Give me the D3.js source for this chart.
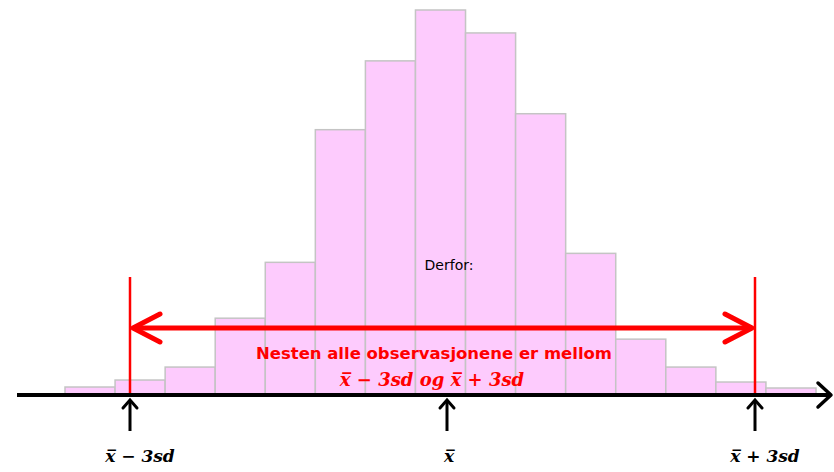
<!DOCTYPE html>
<html><head><meta charset="utf-8">
<script src="https://cdn.jsdelivr.net/npm/d3@7"></script>
<style>body{margin:0;background:#fff}svg{display:block}</style>
</head><body>
<script>
const bins = [1,2,3,4,5,6,7,8,9,10,11,12,13,14,15];
const counts = [7,14,27,76,132,265,334,385,362,281,141,55,27,12,6];
const markerLabels = ["x\u0305 \u2212 3sd","x\u0305","x\u0305 + 3sd"];
const markerPos = [-3,0,3]; // in sd units
const W=834,H=472;
const svg=d3.select("body").append("svg").attr("width",W).attr("height",H);
const x=d3.scaleBand().domain(bins).range([65,816]).padding(0);
const y=d3.scaleLinear().domain([0,385]).range([394,10]);
const s=d3.scaleLinear().domain([-3,0,3]).range([130,447,755]);

svg.selectAll("rect.bar").data(bins).join("rect")
 .attr("x",d=>x(d)).attr("y",(d,i)=>y(counts[i]))
 .attr("width",x.bandwidth()).attr("height",(d,i)=>y(0)-y(counts[i]))
 .attr("fill","#fdcbfd").attr("stroke","#c4c4c4").attr("stroke-width",1.5);

svg.append("line").attr("x1",17).attr("x2",830).attr("y1",395).attr("y2",395)
 .attr("stroke","#000").attr("stroke-width",4);
svg.append("path").attr("d","M818,383 L831,395 L818,407").attr("fill","none")
 .attr("stroke","#000").attr("stroke-width",3.5).attr("stroke-linecap","round").attr("stroke-linejoin","round");

[-3,3].forEach(v=>{
 svg.append("line").attr("x1",s(v)).attr("x2",s(v)).attr("y1",277).attr("y2",393)
  .attr("stroke","#ff0000").attr("stroke-width",2.5);
});
const ay=328;
svg.append("line").attr("x1",s(-3)+4).attr("x2",s(3)-4).attr("y1",ay).attr("y2",ay)
 .attr("stroke","#ff0000").attr("stroke-width",5);
svg.append("path").attr("d",`M${s(-3)+30},${ay-14} L${s(-3)+3},${ay} L${s(-3)+30},${ay+14}`)
 .attr("fill","none").attr("stroke","#ff0000").attr("stroke-width",5).attr("stroke-linecap","round").attr("stroke-linejoin","round");
svg.append("path").attr("d",`M${s(3)-30},${ay-14} L${s(3)-3},${ay} L${s(3)-30},${ay+14}`)
 .attr("fill","none").attr("stroke","#ff0000").attr("stroke-width",5).attr("stroke-linecap","round").attr("stroke-linejoin","round");

markerPos.forEach((v,i)=>{
 const px=s(v);
 svg.append("line").attr("x1",px).attr("x2",px).attr("y1",400).attr("y2",431)
  .attr("stroke","#000").attr("stroke-width",3);
 svg.append("path").attr("d",`M${px-7},${408} L${px},${400} L${px+7},${408}`)
  .attr("fill","none").attr("stroke","#000").attr("stroke-width",3).attr("stroke-linecap","round");
 svg.append("text").attr("x",px+ (i==1?2:10)).attr("y",462).attr("text-anchor","middle")
  .attr("font-family","DejaVu Serif").attr("font-style","italic").attr("font-weight","bold")
  .attr("font-size",17).attr("fill","#000").text(markerLabels[i]);
});

svg.append("text").attr("x",449).attr("y",270).attr("text-anchor","middle")
 .attr("font-family","DejaVu Sans").attr("font-size",14).attr("fill","#000").text("Derfor:");

svg.append("text").attr("x",434).attr("y",359).attr("text-anchor","middle")
 .attr("font-family","DejaVu Sans").attr("font-weight","bold")
 .attr("font-size",16).attr("fill","#ff0000")
 .attr("textLength",356).attr("lengthAdjust","spacingAndGlyphs")
 .text("Nesten alle observasjonene er mellom");
svg.append("text").attr("x",432).attr("y",386).attr("text-anchor","middle")
 .attr("font-family","DejaVu Serif").attr("font-style","italic").attr("font-weight","bold")
 .attr("font-size",18).attr("fill","#ff0000").text("x\u0305 \u2212 3sd og x\u0305 + 3sd");
</script>
</body></html>
